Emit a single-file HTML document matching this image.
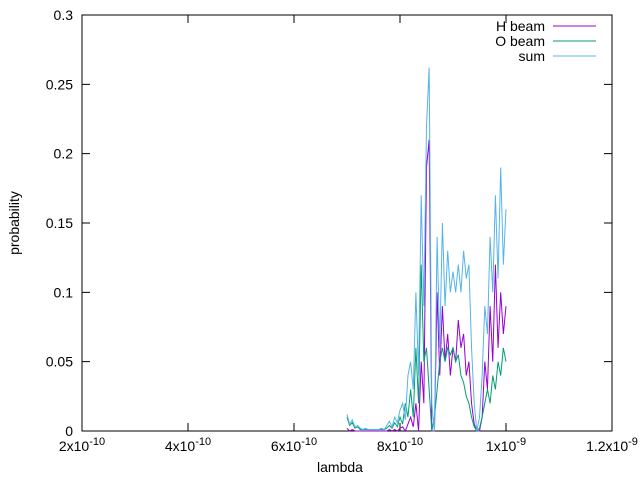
<!DOCTYPE html>
<html><head><meta charset="utf-8"><style>
body{margin:0;background:#fff}
svg{display:block;font-family:"Liberation Sans",Arial,sans-serif;font-size:14px}
</style></head><body>
<svg id="chart" width="640" height="480" viewBox="0 0 640 480" xmlns="http://www.w3.org/2000/svg">
<rect width="640" height="480" fill="#fff"/>
<g id="axes"></g>
<g id="series"></g>
<g id="legend"></g>
<text x="340" y="472" text-anchor="middle">lambda</text>
<text transform="translate(19,223) rotate(-90)" text-anchor="middle">probability</text>
</svg>
<script>
const xTickExps = [[2,-10],[4,-10],[6,-10],[8,-10],[1,-9],[1.2,-9]];
const xTickValues = [2e-10,4e-10,6e-10,8e-10,1e-9,1.2e-9];
const yTickValues = [0,0.05,0.1,0.15,0.2,0.25,0.3];
const yTickLabels = ["0","0.05","0.1","0.15","0.2","0.25","0.3"];
const lambdaStart = 7.0e-10;
const lambdaStep = 5e-12;
const sumValues = [0.012,0.005,0.008,0.003,0.004,0.002,0.001,0.002,0.001,0.001,0.001,0.001,0.001,0.002,0.001,0.004,0.007,0.003,0.010,0.006,0.015,0.02,0.008,0.04,0.05,0.03,0.10,0.04,0.17,0.09,0.22,0.262,0.02,0.0,0.14,0.06,0.15,0.09,0.13,0.10,0.115,0.10,0.12,0.10,0.13,0.11,0.12,0.06,0.02,0.0,0.01,0.04,0.09,0.07,0.14,0.10,0.17,0.11,0.19,0.12,0.16];
const hValues = [0.002,0,0.001,0,0,0,0,0,0,0,0,0,0,0,0,0,0.001,0,0.001,0,0.002,0.003,0,0.005,0.01,0.003,0.02,0.0,0.05,0.02,0.19,0.21,0.0,0.0,0.10,0.04,0.09,0.05,0.07,0.04,0.06,0.05,0.08,0.06,0.07,0.04,0.05,0.02,0.005,0,0.0,0.01,0.05,0.03,0.09,0.05,0.12,0.06,0.10,0.07,0.09];
const oValues = [0.01,0.004,0.006,0.002,0.003,0.001,0.001,0.001,0.001,0.001,0.001,0.001,0.001,0.001,0.001,0.002,0.004,0.002,0.006,0.003,0.01,0.005,0.02,0.01,0.03,0.01,0.06,0.02,0.12,0.05,0.06,0.03,0.0,0.01,0.03,0.05,0.06,0.05,0.06,0.055,0.06,0.05,0.055,0.04,0.035,0.025,0.02,0.01,0.003,0,0.002,0.01,0.02,0.03,0.02,0.04,0.03,0.05,0.04,0.06,0.05];

const NS="http://www.w3.org/2000/svg";
const L=82,R=612,T=15,B=431;
const xS=v=>L+(v-2e-10)/(1.0e-9)*(R-L);
const yS=v=>B-v/0.3*(B-T);
function mk(tag,attrs,parent){const e=document.createElementNS(NS,tag);for(const k in attrs)e.setAttribute(k,attrs[k]);parent.appendChild(e);return e;}
const axes=document.getElementById('axes');
const frame=mk('rect',{x:L,y:T,width:R-L,height:B-T,fill:'none',stroke:'#000','stroke-width':1},axes);


yTickValues.forEach((v,i)=>{
  const y=yS(v);
  const t=mk('path',{d:`M${L},${y}h8M${R},${y}h-8`,stroke:'#000','stroke-width':1},axes);
  
  
  const tx=mk('text',{x:L-9,y:y+5,'text-anchor':'end'},axes);
  tx.textContent=yTickLabels[i];
  
  
});
xTickValues.forEach((v,i)=>{
  const x=xS(v);
  const t=mk('path',{d:`M${x},${B}v-8M${x},${T}v8`,stroke:'#000','stroke-width':1},axes);
  
  
  const tx=mk('text',{x:x,y:B+20,'text-anchor':'middle'},axes);
  const m=mk('tspan',{},tx);m.textContent=xTickExps[i][0]+'x10';
  const s=mk('tspan',{dy:-6,'font-size':'11px'},tx);s.textContent=String(xTickExps[i][1]);
  
  
});
const series=document.getElementById('series');
function pathFor(arr){return arr.map((v,i)=>(i?'L':'M')+xS(lambdaStart+i*lambdaStep).toFixed(2)+','+yS(v).toFixed(2)).join('');}
const pH=mk('path',{d:pathFor(hValues),fill:'none',stroke:'#9400d3','stroke-width':1},series);


const pO=mk('path',{d:pathFor(oValues),fill:'none',stroke:'#009e73','stroke-width':1},series);


const pS=mk('path',{d:pathFor(sumValues),fill:'none',stroke:'#56b4e9','stroke-width':1},series);


const legend=document.getElementById('legend');
[['H beam','#9400d3',26],['O beam','#009e73',41],['sum','#56b4e9',56]].forEach(e=>{
  const g=mk('g',{},legend);
  
  
  const t=mk('text',{x:545,y:e[2]+5,'text-anchor':'end'},g);t.textContent=e[0];
  mk('line',{x1:553,x2:596,y1:e[2],y2:e[2],stroke:e[1],'stroke-width':1},g);
});
</script>
</body></html>
